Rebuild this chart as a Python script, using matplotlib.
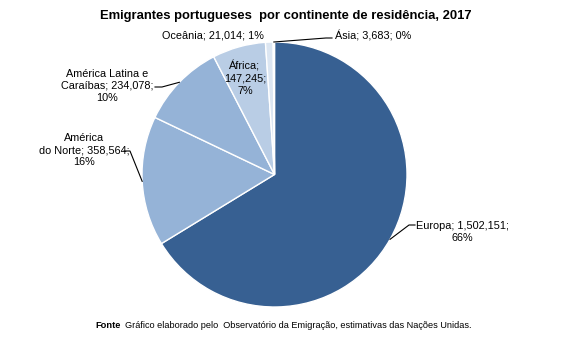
import matplotlib
matplotlib.use("Agg")
import matplotlib.pyplot as plt
import numpy as np
from matplotlib.lines import Line2D

plt.rcParams['font.family'] = ['Liberation Sans', 'DejaVu Sans']

categories = ["Europa", "América\ndo Norte", "América Latina e\nCaraíbas", "África", "Oceânia", "Ásia"]
values = [1502151, 358564, 234078, 147245, 21014, 3683]
percents = ["66%", "16%", "10%", "7%", "1%", "0%"]
colors = ["#376092", "#95B3D7", "#95B3D7", "#B9CDE5", "#DCE6F2", "#F2F6FB"]

title = "Emigrantes portugueses  por continente de residência, 2017"
source_bold = "Fonte"
source_text = "Gráfico elaborado pelo  Observatório da Emigração, estimativas das Nações Unidas."

W, H = 567, 341
fig = plt.figure(figsize=(W / 100, H / 100), dpi=100)
cx, cy, r = 274.5, 174.5, 132.5
ax = fig.add_axes([(cx - r) / W, (H - cy - r) / H, 2 * r / W, 2 * r / H])

wedges, _ = ax.pie(values, startangle=90, counterclock=False, colors=colors,
                   radius=1, center=(0, 0), frame=False,
                   wedgeprops=dict(edgecolor="white", linewidth=1.0))
ax.set_xlim(-1, 1)
ax.set_ylim(-1, 1)
ax.axis("off")


def fmt(v):
    return f"{v:,}"


def fig_px(x, y_top):
    return (x / W, (H - y_top) / H)


def edge_point(w, frac=1.0):
    ang = np.deg2rad((w.theta1 + w.theta2) / 2)
    disp = ax.transData.transform((frac * np.cos(ang), frac * np.sin(ang)))
    return fig.transFigure.inverted().transform(disp)


fs = 7.8
# Title
fig.text(*fig_px(286, 16), title, ha="center", va="center", fontsize=9.4, fontweight="bold")

labels = [
    f"{categories[0]}; {fmt(values[0])};\n{percents[0]}",
    f"{categories[1]}; {fmt(values[1])};\n{percents[1]}",
    f"{categories[2]}; {fmt(values[2])};\n{percents[2]}",
    f"{categories[3]};\n{fmt(values[3])};\n{percents[3]}",
    f"{categories[4]}; {fmt(values[4])}; {percents[4]}",
    f"{categories[5]}; {fmt(values[5])}; {percents[5]}",
]
pos = [(462, 232, "center"), (84, 150, "center"), (107, 86, "center"),
       (245, 78, "center"), (213, 36, "center"), (335, 36, "left")]
for lab, (x, y, ha) in zip(labels, pos):
    fig.text(*fig_px(x, y), lab, ha=ha, va="center", fontsize=fs,
             multialignment="center", linespacing=1.3, color="black")

# leader lines: start (px), elbow (px)
leaders = {0: [(415, 225), (409, 225)],
           1: [(124, 151), (130, 151)],
           2: [(155, 87), (162, 87)],
           5: [(332, 38), (326, 38)]}
for i, pts in leaders.items():
    p0 = fig_px(*pts[0])
    p1 = fig_px(*pts[1])
    pe = edge_point(wedges[i])
    fig.add_artist(Line2D([p0[0], p1[0], pe[0]], [p0[1], p1[1], pe[1]],
                          transform=fig.transFigure, color="black", lw=0.8))

# Source
fig.text(*fig_px(95, 326), source_bold, ha="left", va="center", fontsize=6.7, fontweight="bold")
fig.text(*fig_px(125, 326), source_text, ha="left", va="center", fontsize=6.6)

fig.savefig("out.png", dpi=100, facecolor="white")
